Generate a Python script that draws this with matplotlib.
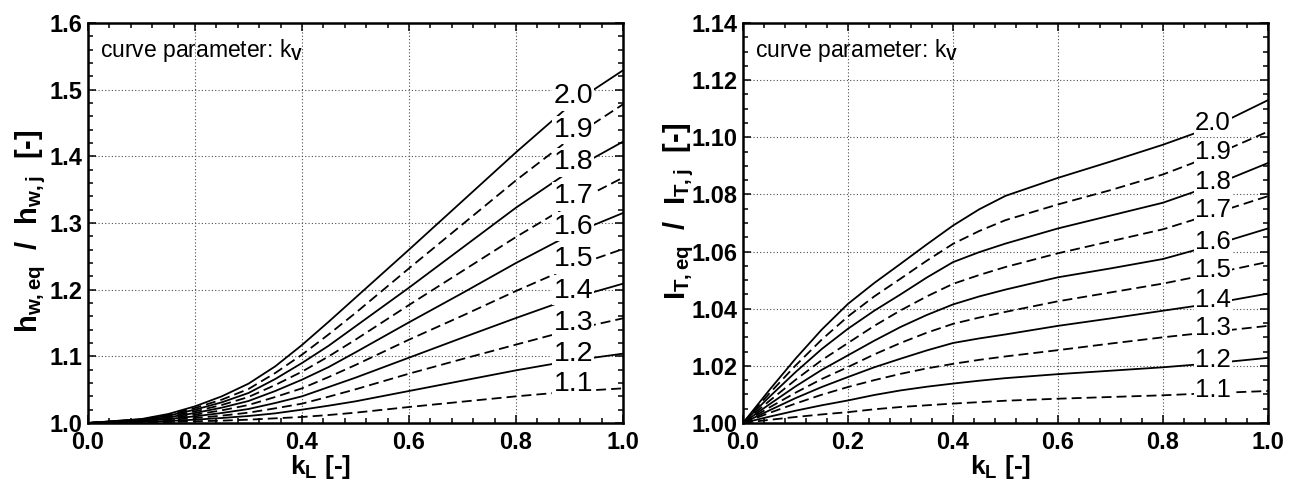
import numpy as np
import matplotlib
matplotlib.use('Agg')
import matplotlib.pyplot as plt
from matplotlib.ticker import MultipleLocator, FormatStrFormatter

FONT = 'Liberation Sans'

plt.rcParams.update({
    'font.family': [FONT, 'DejaVu Sans'],
    'font.weight': 'bold',
    'axes.labelweight': 'bold',
    'mathtext.fontset': 'custom',
    'mathtext.rm': FONT,
    'mathtext.it': FONT + ':bold',
    'mathtext.bf': FONT + ':bold',
})

kv = [2.0, 1.9, 1.8, 1.7, 1.6, 1.5, 1.4, 1.3, 1.2, 1.1]

# h_w,eq / h_w,j over k_L, one list per k_V
kl_hw = [0.0, 0.1, 0.15, 0.2, 0.25, 0.3, 0.35, 0.4, 0.45, 0.5, 0.6, 0.7, 0.8, 0.9, 1.0]
hw_20 = [1.000, 1.006, 1.0135, 1.025, 1.040, 1.059, 1.085, 1.117, 1.152, 1.188, 1.260, 1.333, 1.406, 1.476, 1.529]
hw_19 = [1.000, 1.0055, 1.012, 1.0225, 1.035, 1.051, 1.075, 1.1025, 1.133, 1.165, 1.232, 1.298, 1.364, 1.4255, 1.478]
hw_18 = [1.000, 1.005, 1.011, 1.020, 1.031, 1.045, 1.066, 1.090, 1.116, 1.145, 1.203, 1.263, 1.323, 1.3775, 1.422]
hw_17 = [1.000, 1.0045, 1.0095, 1.0175, 1.027, 1.039, 1.057, 1.077, 1.100, 1.125, 1.177, 1.228, 1.279, 1.327, 1.368]
hw_16 = [1.000, 1.004, 1.0085, 1.015, 1.023, 1.033, 1.048, 1.065, 1.084, 1.106, 1.151, 1.195, 1.240, 1.282, 1.315]
hw_15 = [1.000, 1.0035, 1.007, 1.0125, 1.019, 1.027, 1.039, 1.052, 1.069, 1.087, 1.125, 1.161, 1.198, 1.233, 1.261]
hw_14 = [1.000, 1.003, 1.006, 1.010, 1.015, 1.021, 1.030, 1.040, 1.054, 1.068, 1.098, 1.128, 1.1575, 1.186, 1.209]
hw_13 = [1.000, 1.002, 1.0045, 1.0075, 1.011, 1.0155, 1.022, 1.029, 1.0395, 1.0505, 1.074, 1.096, 1.1176, 1.139, 1.157]
hw_12 = [1.000, 1.0015, 1.003, 1.005, 1.0075, 1.0105, 1.0145, 1.020, 1.026, 1.0325, 1.048, 1.0635, 1.079, 1.093, 1.104]
hw_11 = [1.000, 1.001, 1.0015, 1.0025, 1.0035, 1.005, 1.007, 1.009, 1.012, 1.0155, 1.024, 1.032, 1.040, 1.047, 1.052]

# I_T,eq / I_T,j over k_L, one list per k_V
kl_it = [0.0, 0.05, 0.1, 0.15, 0.2, 0.25, 0.3, 0.35, 0.4, 0.45, 0.5, 0.6, 0.7, 0.8, 0.9, 1.0]
it_20 = [1.000, 1.0115, 1.0225, 1.0327, 1.0417, 1.049, 1.0557, 1.0625, 1.0691, 1.0748, 1.0795, 1.0858, 1.0915, 1.0974, 1.104, 1.113]
it_19 = [1.000, 1.0103, 1.0201, 1.0292, 1.0373, 1.0443, 1.0505, 1.0568, 1.0627, 1.0672, 1.0710, 1.0765, 1.0815, 1.087, 1.094, 1.102]
it_18 = [1.000, 1.0091, 1.0178, 1.0259, 1.033, 1.0393, 1.045, 1.0509, 1.0563, 1.0598, 1.0628, 1.0681, 1.0726, 1.0771, 1.0835, 1.091]
it_17 = [1.000, 1.0077, 1.0151, 1.022, 1.028, 1.034, 1.0394, 1.0443, 1.0487, 1.0518, 1.0546, 1.0594, 1.0636, 1.0678, 1.0735, 1.0794]
it_16 = [1.000, 1.0065, 1.0128, 1.0186, 1.0237, 1.0288, 1.0336, 1.0378, 1.0415, 1.0443, 1.0467, 1.051, 1.0541, 1.0574, 1.0625, 1.0681]
it_15 = [1.000, 1.0054, 1.0106, 1.0154, 1.0196, 1.024, 1.028, 1.0316, 1.0347, 1.0369, 1.0389, 1.0426, 1.0457, 1.0488, 1.0525, 1.0564]
it_14 = [1.000, 1.0044, 1.0087, 1.0126, 1.0161, 1.0195, 1.0225, 1.0254, 1.028, 1.0296, 1.031, 1.034, 1.0366, 1.0393, 1.042, 1.0453]
it_13 = [1.000, 1.0035, 1.0068, 1.0099, 1.0126, 1.015, 1.0172, 1.0191, 1.0207, 1.0221, 1.0233, 1.0255, 1.0278, 1.030, 1.032, 1.034]
it_12 = [1.000, 1.0022, 1.0043, 1.0062, 1.0079, 1.0098, 1.0114, 1.0127, 1.0138, 1.0148, 1.0157, 1.0171, 1.0183, 1.0195, 1.021, 1.0228]
it_11 = [1.000, 1.0011, 1.0021, 1.003, 1.0038, 1.0048, 1.0056, 1.0062, 1.0068, 1.0073, 1.0078, 1.0085, 1.0091, 1.0097, 1.0105, 1.0112]

hw_curves = [hw_20, hw_19, hw_18, hw_17, hw_16, hw_15, hw_14, hw_13, hw_12, hw_11]
it_curves = [it_20, it_19, it_18, it_17, it_16, it_15, it_14, it_13, it_12, it_11]

DASH = (0, (5.5, 2.8))


def style_axes(ax, ylim, ymajor, yminor, yfmt):
    ax.set_xlim(0, 1)
    ax.set_ylim(*ylim)
    ax.xaxis.set_major_locator(MultipleLocator(0.2))
    ax.xaxis.set_minor_locator(MultipleLocator(0.04))
    ax.yaxis.set_major_locator(MultipleLocator(ymajor))
    ax.yaxis.set_minor_locator(MultipleLocator(yminor))
    ax.xaxis.set_major_formatter(FormatStrFormatter('%.1f'))
    ax.yaxis.set_major_formatter(FormatStrFormatter(yfmt))
    ax.tick_params(which='both', direction='in', top=True, right=True, width=1.1,
                   labelsize=17)
    ax.tick_params(which='major', length=6)
    ax.tick_params(which='minor', length=3.3)
    ax.tick_params(axis='x', pad=6)
    ax.tick_params(axis='y', pad=4)
    for sp in ax.spines.values():
        sp.set_linewidth(1.8)
    ax.grid(True, which='major', color='0.3', lw=0.8, ls=(0, (1, 2)))
    ax.set_axisbelow(True)


def draw_family(ax, kl, curves, label_x, fs, lift):
    for v, ys in zip(kv, curves):
        ls = '-' if round(v * 10) % 2 == 0 else DASH
        ax.plot(kl, ys, color='k', lw=1.3, ls=ls, zorder=2)
        ax.annotate('%.1f' % v, (label_x, np.interp(label_x, kl, ys)),
                    xytext=(0, lift), textcoords='offset points',
                    fontsize=fs, fontweight='normal', ha='center', va='center',
                    zorder=4,
                    bbox=dict(boxstyle='square,pad=0.05', fc='white', ec='none'))
    ax.text(0.022, 0.93, r'curve parameter: k$_\mathrm{V}$', transform=ax.transAxes,
            fontsize=16.5, fontweight='normal', ha='left', va='center')


fig = plt.figure(figsize=(12.99, 4.88), dpi=100)
ax1 = fig.add_axes([88 / 1299, 65 / 488, 535 / 1299, 400 / 488])
ax2 = fig.add_axes([743 / 1299, 65 / 488, 525 / 1299, 400 / 488])

style_axes(ax1, (1.0, 1.6), 0.1, 0.02, '%.1f')
style_axes(ax2, (1.0, 1.14), 0.02, 0.005, '%.2f')

draw_family(ax1, kl_hw, hw_curves, 0.907, 20.5, 5)
draw_family(ax2, kl_it, it_curves, 0.895, 18.5, 2.5)

ax1.set_ylabel(r'h$_\mathbf{w,eq}$  /  h$_\mathbf{w,j}$  [-]', fontsize=21)
ax2.set_ylabel(r'I$_\mathbf{T,eq}$  /  I$_\mathbf{T,j}$  [-]', fontsize=21)
for ax in (ax1, ax2):
    ax.set_xlabel(r'k$_\mathbf{L}$ [-]', fontsize=19)
ax1.xaxis.set_label_coords(0.434, -0.074)
ax2.xaxis.set_label_coords(0.49, -0.074)
ax1.yaxis.set_label_coords(-0.074, 0.48)
ax2.yaxis.set_label_coords(-0.09, 0.53)

fig.savefig('out.png', dpi=100)
